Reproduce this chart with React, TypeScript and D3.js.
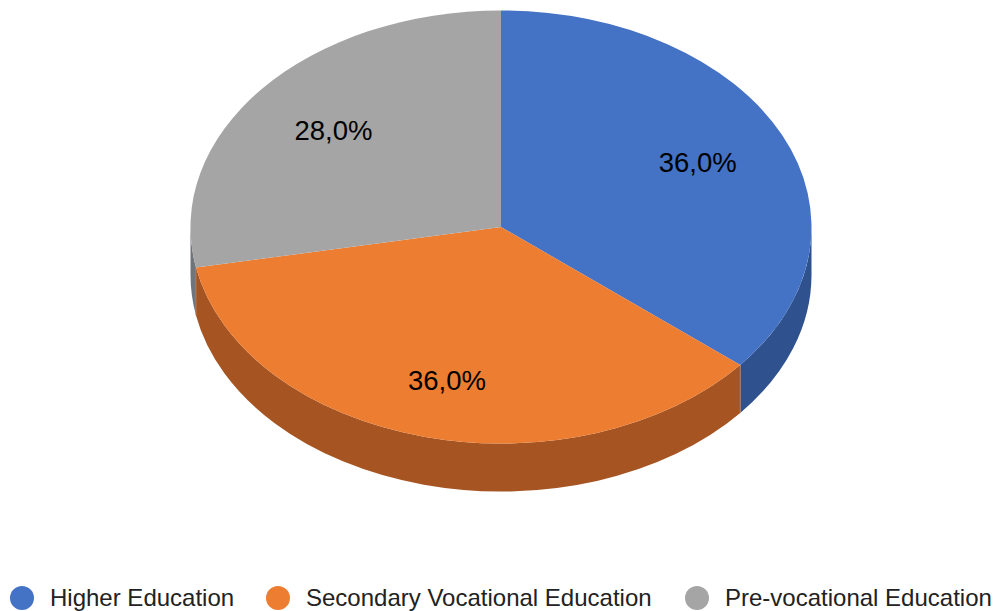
import React from "react";
import * as d3 from "d3";

const categories = ["Higher Education", "Secondary Vocational Education", "Pre-vocational Education"];
const values = [36, 36, 28];
const colors = ["#4472C4", "#ED7D31", "#A5A5A5"];
const sideColors = ["#2F528F", "#A65522", "#70757C"];

const W = 997, H = 611;
const cx = 501, cy = 227, rx = 310.5, ry = 216.5, depth = 48;

function pt(t: number, dy = 0): [number, number] {
  return [cx + rx * Math.sin(t), cy - ry * Math.cos(t) + dy];
}

function topPath(a0: number, a1: number) {
  const [x0, y0] = pt(a0);
  const [x1, y1] = pt(a1);
  const large = a1 - a0 > Math.PI ? 1 : 0;
  return `M${cx},${cy}L${x0},${y0}A${rx},${ry} 0 ${large} 1 ${x1},${y1}Z`;
}

function sidePath(a0: number, a1: number) {
  const s = Math.max(a0, Math.PI / 2);
  const e = Math.min(a1, (3 * Math.PI) / 2);
  if (e <= s) return null;
  const [x0, y0] = pt(s);
  const [x1, y1] = pt(e);
  return `M${x0},${y0}A${rx},${ry} 0 0 1 ${x1},${y1}L${x1},${y1 + depth}A${rx},${ry} 0 0 0 ${x0},${y0 + depth}Z`;
}

export default function App() {
  const pie = d3.pie<number>().sort(null).value((d) => d);
  const arcs = pie(values);
  const total = d3.sum(values);
  const fmt = (v: number) => ((v / total) * 100).toFixed(1).replace(".", ",") + "%";
  const font = "Liberation Sans, Arial, Helvetica, sans-serif";

  const edges = arcs
    .map((a) => a.endAngle)
    .filter((t) => t > Math.PI / 2 && t < (3 * Math.PI) / 2);

  const legendX = [22, 278, 697];

  return (
    <svg width={W} height={H} style={{ position: "absolute", left: 0, top: 0, background: "#fff" }}>
      {arcs.map((a, i) => {
        const p = sidePath(a.startAngle, a.endAngle);
        return p ? <path key={"s" + i} d={p} fill={sideColors[i]} /> : null;
      })}
      {edges.map((t, i) => {
        const [x, y] = pt(t);
        return <line key={"e" + i} x1={x} y1={y} x2={x} y2={y + depth} stroke="#c98a5e" strokeWidth={1} opacity={0.6} />;
      })}
      {arcs.map((a, i) => (
        <path key={"t" + i} d={topPath(a.startAngle, a.endAngle)} fill={colors[i]} />
      ))}
      {arcs.map((a, i) => {
        const m = (a.startAngle + a.endAngle) / 2;
        const x = cx + 0.7 * rx * Math.sin(m);
        const y = cy - 0.7 * ry * Math.cos(m) + 0.14 * depth * Math.max(0, -Math.cos(m));
        return (
          <text key={"l" + i} x={x} y={y + 10} textAnchor="middle" fontFamily={font} fontSize={27.5} fill="#000">
            {fmt(values[i])}
          </text>
        );
      })}
      {categories.map((c, i) => (
        <g key={"g" + i}>
          <circle cx={legendX[i]} cy={598} r={12} fill={colors[i]} />
          <text x={legendX[i] + 28} y={606} fontFamily={font} fontSize={24} fill="#222">
            {c}
          </text>
        </g>
      ))}
    </svg>
  );
}
